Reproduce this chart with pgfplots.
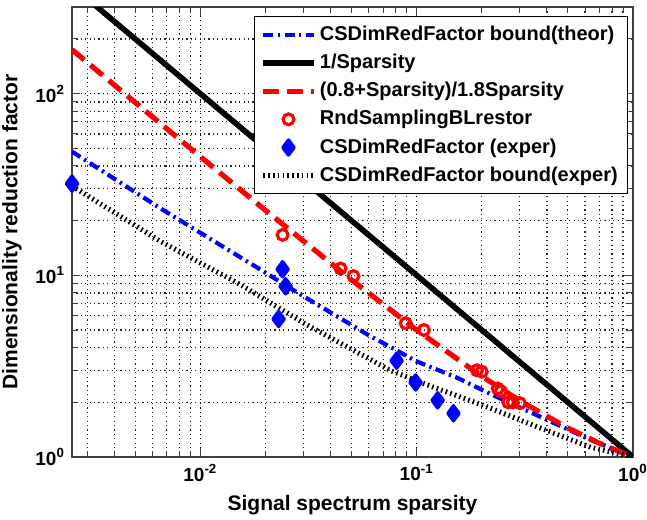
\documentclass[border=0pt]{standalone}
\usepackage{fontspec}
\setmainfont{Liberation Sans}
\usepackage{pgfplots}
\pgfplotsset{compat=1.18}

\definecolor{mblue}{RGB}{0,0,255}
\definecolor{mred}{RGB}{255,0,0}

\begin{document}
\begin{tikzpicture}
\useasboundingbox (-36pt,-31pt) rectangle (287.5pt,228.5pt);
\begin{axis}[
    scale only axis,
    width=280.5pt, height=225pt,
    xmode=log, ymode=log,
    xmin=0.00255, xmax=1,
    ymin=1, ymax=300,
    xtick={0.01,0.1,1},
    xticklabels={10\textsuperscript{-2},10\textsuperscript{-1},10\textsuperscript{0}},
    ytick={1,10,100},
    yticklabels={10\textsuperscript{0},10\textsuperscript{1},10\textsuperscript{2}},
    minor xtick={0.003,0.004,0.005,0.006,0.007,0.008,0.009,0.02,0.03,0.04,0.05,0.06,0.07,0.08,0.09,0.2,0.3,0.4,0.5,0.6,0.7,0.8,0.9},
    minor ytick={2,3,4,5,6,7,8,9,20,30,40,50,60,70,80,90,200,300},
    grid=both,
    major grid style={black, dash pattern=on 0.6pt off 1.6pt, line width=0.6pt},
    minor grid style={black!85, dash pattern=on 0.6pt off 1.6pt, line width=0.6pt},
    axis line style={black!75, line width=0.8pt},
    tick style={black!75, line width=0.5pt},
    tick label style={font=\bfseries\fontsize{9.5}{10}\selectfont},
    xlabel={Signal spectrum sparsity},
    ylabel={Dimensionality reduction factor},
    label style={font=\bfseries\fontsize{10.5}{12}\selectfont},
    legend cell align=left,
    legend style={at={(0.991,0.98)}, anchor=north east,
        font=\bfseries\fontsize{10}{12}\selectfont,
        draw=black, line width=0.6pt, fill=white,
        nodes={inner sep=1.8pt, text height=8pt, text depth=2.5pt}},
    legend image code/.code={\draw[mark repeat=2,mark phase=2,#1] plot coordinates {(0cm,0cm) (0.44cm,0cm) (0.88cm,0cm)};},
]

% CS bound (theoretical)
\addplot[mblue, line width=2.1pt, dash pattern=on 5pt off 2.2pt on 1.2pt off 2.2pt] coordinates {
    (0.00255,48) (0.00653,23.4) (0.0196,10.5) (0.029,7.85) (0.0593,4.72)
    (0.1,3.36) (0.155,2.72) (0.22,2.22) (0.375,1.66) (0.64,1.24) (1,1)
};
\addlegendentry{CSDimRedFactor bound(theor)}

% 1/Sparsity
\addplot[black, line width=2.8pt] coordinates {
    (0.00255,392.2) (1,1)
};
\addlegendentry{1/Sparsity}

% (0.8+s)/(1.8s)
\addplot[mred, line width=2.6pt, dash pattern=on 8pt off 4pt] coordinates {
    (0.00255,174.8) (0.005,89.4) (0.01,45) (0.02,22.8) (0.05,9.44)
    (0.1,5.0) (0.2,2.78) (0.3,2.04) (0.5,1.444) (0.7,1.19) (1,1)
};
\addlegendentry{(0.8+Sparsity)/1.8Sparsity}

% random sampling restoration
\addplot[only marks, mark=o, mark size=2.7pt, mred, line width=1.6pt] coordinates {
    (0.024,16.7) (0.0445,10.9) (0.051,9.9) (0.089,5.45) (0.108,5.0)
    (0.19,3.0) (0.2,2.95) (0.237,2.38) (0.245,2.3) (0.265,2.0)
    (0.278,2.0) (0.30,1.98)
};
\addlegendentry{RndSamplingBLrestor}

% CS experimental
\addplot[only marks, mark=diamond*, mark size=3.8pt, mblue, fill=mblue, line width=1.6pt, line join=round] coordinates {
    (0.00255,32) (0.024,10.8) (0.0248,8.7) (0.023,5.75)
    (0.0808,3.39) (0.0989,2.57) (0.125,2.05) (0.148,1.74)
};
\addlegendentry{CSDimRedFactor (exper)}

% CS bound (experimental)
\addplot[black, line width=2.5pt, dash pattern=on 0.8pt off 1.6pt] coordinates {
    (0.00255,31) (0.00653,15.4) (0.0153,8.9) (0.030,5.47) (0.0758,2.99)
    (0.1076,2.54) (0.204,1.92) (0.375,1.44) (0.64,1.13) (1,1)
};
\addlegendentry{CSDimRedFactor bound(exper)}

\end{axis}
\end{tikzpicture}
\end{document}
